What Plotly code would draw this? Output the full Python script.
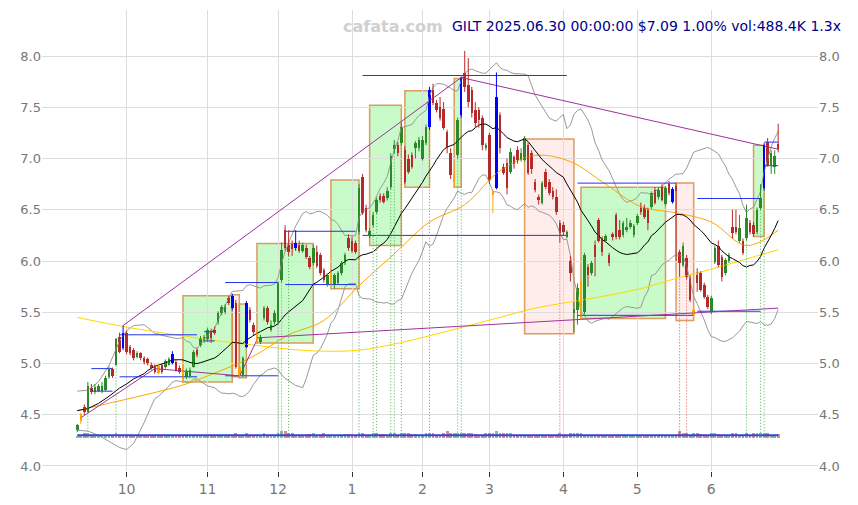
import plotly.graph_objects as go
import pandas as pd
import numpy as np

# ---------------- data ----------------
month_labels = ["9", "10", "11", "12", "1", "2", "3", "4", "5", "6"]
month_days = [14, 23, 20, 21, 20, 19, 21, 21, 21, 20]   # trading days per month shown

O = [4.35,4.44,4.58,4.53,4.76,4.72,4.73,4.73,4.74,4.87,
     4.95,4.99,5.26,5.15,5.30,5.16,5.13,5.06,5.10,5.05,
     5.04,4.99,4.97,4.91,4.99,4.97,4.99,5.00,5.01,4.96,
     4.99,4.87,4.88,4.97,5.13,5.18,5.22,5.23,5.32,5.33,
     5.40,5.49,5.50,5.64,5.54,5.59,4.97,4.89,5.16,5.52,
     5.38,5.21,5.21,5.44,5.54,5.33,5.40,5.40,5.81,6.30,
     6.16,6.17,6.13,6.16,6.10,6.13,6.03,5.98,6.09,6.06,
     5.91,5.77,5.79,5.77,5.79,5.88,5.98,6.22,6.20,6.18,
     6.28,6.82,6.52,6.25,6.35,6.48,6.63,6.63,6.61,6.72,
     7.09,7.13,7.15,7.08,7.00,7.03,7.10,7.10,7.00,7.15,
     7.31,7.67,7.54,7.50,7.48,7.26,7.05,6.77,7.03,7.42,
     7.83,7.72,7.67,7.47,7.47,7.40,7.10,7.23,6.64,6.71,
     7.42,6.92,6.96,6.87,7.01,7.08,6.99,6.99,7.13,7.05,
     6.77,6.62,6.57,6.87,6.77,6.68,6.62,6.37,6.35,6.23,
     6.00,5.49,5.52,5.80,5.50,5.94,5.88,6.16,6.40,6.22,
     6.20,6.06,6.26,6.45,6.30,6.25,6.30,6.33,6.25,6.37,
     6.52,6.52,6.50,6.53,6.69,6.62,6.72,6.56,6.75,6.58,
     6.73,6.09,5.96,6.03,5.83,5.47,5.86,5.88,5.77,5.65,
     5.50,5.99,6.15,6.04,5.88,6.00,6.33,6.33,6.20,6.20,
     6.22,6.37,6.35,6.28,6.52,6.71,7.16,6.94,6.92,7.14]

C = [4.40,4.51,4.53,4.78,4.72,4.77,4.78,4.78,4.86,4.95,
     4.88,5.24,5.11,5.30,5.11,5.10,5.05,5.10,5.05,5.01,
     5.00,4.96,4.92,4.98,4.92,5.02,5.04,5.09,4.94,4.92,
     4.84,4.93,4.94,5.11,5.08,5.25,5.26,5.33,5.25,5.30,
     5.49,5.55,5.55,5.59,5.66,4.97,4.89,5.05,5.59,5.42,
     5.31,5.30,5.26,5.54,5.40,5.38,5.49,5.79,6.11,6.13,
     6.09,6.12,6.18,6.10,6.16,6.04,5.94,6.13,5.95,5.88,
     5.81,5.86,5.88,5.86,5.88,5.98,6.06,6.13,6.10,6.09,
     6.71,6.47,6.30,6.29,6.45,6.60,6.60,6.58,6.68,7.02,
     7.13,7.05,7.31,6.77,6.87,6.92,7.15,7.18,7.18,7.31,
     7.67,7.54,7.47,7.40,7.30,7.10,6.84,6.86,7.38,7.79,
     7.70,7.55,7.44,7.35,7.38,7.13,7.13,6.79,6.67,7.60,
     7.10,6.86,6.71,7.06,6.95,6.99,7.05,7.20,6.86,6.90,
     6.69,6.60,6.76,6.72,6.66,6.62,6.48,6.27,6.28,6.28,
     5.88,5.53,5.74,5.45,6.06,5.86,5.98,6.04,6.20,6.09,
     6.24,5.98,6.23,6.23,6.23,6.37,6.33,6.37,6.34,6.44,
     6.48,6.43,6.37,6.66,6.57,6.69,6.60,6.71,6.66,6.70,
     6.68,5.98,6.15,5.84,5.62,5.52,5.79,5.72,5.65,5.55,
     5.64,6.13,5.96,5.84,6.01,6.06,6.27,6.28,6.32,6.08,
     6.42,6.28,6.26,6.50,6.61,7.13,6.94,7.05,7.02,7.09]

H = [4.41,4.52,4.60,4.82,4.80,4.80,4.80,4.82,4.88,4.97,
     4.96,5.25,5.30,5.37,5.32,5.18,5.15,5.12,5.11,5.07,
     5.06,5.01,4.99,5.00,5.00,5.04,5.06,5.12,5.03,4.98,
     5.00,4.95,4.96,5.13,5.15,5.27,5.28,5.35,5.34,5.36,
     5.51,5.57,5.58,5.66,5.68,5.62,5.00,5.07,5.61,5.55,
     5.40,5.32,5.28,5.56,5.56,5.42,5.52,5.80,6.18,6.35,
     6.30,6.20,6.30,6.20,6.18,6.16,6.05,6.16,6.15,6.08,
     5.93,5.88,5.90,5.88,5.90,6.00,6.08,6.26,6.24,6.20,
     6.75,6.85,6.55,6.32,6.48,6.62,6.66,6.66,6.72,7.05,
     7.18,7.16,7.35,7.12,7.04,7.06,7.17,7.21,7.22,7.33,
     7.70,7.73,7.57,7.60,7.55,7.28,7.10,6.95,7.40,7.80,
     8.05,7.98,7.70,7.55,7.50,7.42,7.15,7.25,6.70,7.84,
     7.45,6.95,7.00,7.10,7.03,7.12,7.10,7.22,7.16,7.08,
     6.80,6.65,6.78,6.90,6.80,6.72,6.70,6.40,6.38,6.30,
     6.05,5.60,5.78,5.82,6.08,5.97,6.00,6.20,6.42,6.24,
     6.26,6.08,6.28,6.47,6.40,6.39,6.42,6.40,6.36,6.46,
     6.57,6.55,6.52,6.68,6.72,6.72,6.75,6.73,6.78,6.72,
     6.76,6.11,6.18,6.06,5.86,5.54,5.93,5.90,5.79,5.67,
     5.66,6.15,6.20,6.06,6.03,6.08,6.50,6.50,6.45,6.22,
     6.55,6.40,6.38,6.52,6.75,7.15,7.20,7.08,7.08,7.34]

L = [4.33,4.41,4.50,4.52,4.70,4.70,4.72,4.71,4.73,4.85,
     4.86,4.98,5.10,5.13,5.09,5.08,5.03,5.05,5.03,4.99,
     4.98,4.94,4.90,4.89,4.90,4.95,4.98,4.99,4.92,4.90,
     4.82,4.85,4.86,4.96,5.06,5.16,5.20,5.21,5.20,5.28,
     5.38,5.47,5.48,5.57,5.52,4.95,4.85,4.87,5.15,5.40,
     5.28,5.19,5.19,5.42,5.38,5.31,5.38,5.38,5.79,6.10,
     6.05,6.05,6.10,6.08,6.08,6.02,5.92,5.96,5.93,5.86,
     5.79,5.75,5.77,5.73,5.77,5.86,5.96,6.10,6.08,6.07,
     6.26,6.45,6.28,6.22,6.33,6.46,6.57,6.56,6.59,6.70,
     7.05,7.02,7.13,6.75,6.85,6.90,7.00,7.07,6.98,7.13,
     7.28,7.52,7.45,7.37,7.28,7.05,6.80,6.72,7.00,7.40,
     7.65,7.50,7.40,7.30,7.30,7.08,7.08,6.75,6.47,6.70,
     7.05,6.84,6.65,6.85,6.90,6.95,6.97,6.97,6.84,6.85,
     6.67,6.55,6.55,6.70,6.64,6.60,6.45,6.18,6.25,6.22,
     5.80,5.30,5.38,5.43,5.48,5.75,5.86,5.85,6.18,6.05,
     6.18,5.95,6.20,6.21,6.21,6.23,6.28,6.31,6.23,6.35,
     6.45,6.41,6.30,6.51,6.55,6.60,6.58,6.54,6.64,6.56,
     6.00,5.85,5.94,5.82,5.60,5.45,5.70,5.70,5.63,5.53,
     5.48,5.97,5.94,5.80,5.86,5.98,6.22,6.26,6.18,6.06,
     6.20,6.26,6.24,6.26,6.50,6.69,6.92,6.85,6.85,7.06]

VOL = [300,320,600,650,280,260,250,240,260,300,
       280,700,350,420,300,260,240,230,250,240,
       230,220,240,260,240,250,260,300,280,250,
       320,260,250,300,280,320,260,300,280,260,
       330,300,280,300,380,700,420,380,650,400,
       330,300,320,600,380,300,320,700,1000,950,
       650,600,380,350,330,320,550,600,350,330,
       600,320,300,290,300,320,550,550,300,320,
       650,600,380,350,600,650,550,550,380,600,
       600,350,650,600,600,550,550,380,350,600,
       700,600,380,350,600,950,650,600,650,700,
       650,600,600,550,380,350,600,600,600,900,
       650,600,600,600,380,350,330,320,380,350,
       330,320,380,350,330,320,380,650,380,350,
       650,600,650,600,400,380,350,330,380,350,
       300,330,300,380,330,320,280,270,300,290,
       300,320,350,330,300,280,300,290,320,380,
       350,1000,650,600,380,600,600,550,380,350,
       600,600,550,380,330,320,600,600,350,330,
       650,380,600,600,650,700,600,380,350,488]

blue_days = [13, 27, 44, 48, 62, 100, 109, 119, 169, 195]
orange_days = [1, 23, 30, 46, 51, 72, 107, 118, 143, 175]

# 20-day band values before a full 20-session window exists
head_idx = [0, 3, 6, 9, 12, 14, 16]
head_mid = [4.54, 4.56, 4.61, 4.68, 4.76, 4.80, 4.85]
head_up = [4.73, 4.74, 4.82, 4.98, 5.22, 5.32, 5.37]
head_lo = [4.35, 4.34, 4.30, 4.24, 4.18, 4.16, 4.22]

ma_idx = [0, 10, 20, 30, 40, 50, 60, 70, 80, 90, 100, 110, 120, 130, 140, 150, 160, 170, 180, 190, 199]
ma50 = [4.54, 4.62, 4.70, 4.79, 4.92, 5.07, 5.28, 5.42, 5.76, 6.07, 6.38, 6.55, 6.88, 7.03, 6.97,
        6.75, 6.53, 6.47, 6.38, 6.15, 6.30]
ma200 = [5.45, 5.38, 5.32, 5.27, 5.22, 5.18, 5.14, 5.12, 5.13, 5.19, 5.27, 5.36, 5.45, 5.54, 5.60,
         5.66, 5.73, 5.83, 5.92, 6.02, 6.11]

# consolidation boxes
box_x0 = [30, 44, 46, 51, 72, 83, 93, 107, 127, 143, 170, 192]
box_x1 = [44, 46, 48, 67, 80, 92, 100, 109, 141, 167, 175, 195]
box_lo = [4.82, 4.87, 4.86, 5.20, 5.73, 6.15, 6.72, 6.72, 5.29, 5.44, 5.42, 6.24]
box_hi = [5.66, 5.67, 5.58, 6.17, 6.79, 7.52, 7.66, 7.78, 7.19, 6.72, 6.76, 7.13]
box_up = [1, 0, 1, 1, 1, 1, 1, 1, 0, 1, 0, 1]

# support / resistance segments
lvl_x0 = [4, 4, 12, 12, 36, 36, 42, 42, 59, 59, 81, 81, 142, 142, 176, 176, 195, 195]
lvl_x1 = [10, 10, 34, 34, 39, 39, 57, 57, 79, 79, 139, 139, 170, 175, 194, 194, 199, 199]
lvl_y = [4.95, 4.73, 5.28, 4.87, 5.31, 5.22, 5.79, 4.88, 6.29, 5.77, 7.81, 6.25, 6.76, 5.47,
         6.61, 5.51, 7.16, 6.93]

# trend lines
tl_x0 = [13, 109, 1, 22, 46, 51]
tl_y0 = [5.37, 7.79, 4.47, 4.95, 4.87, 5.25]
tl_x1 = [109, 199, 22, 46, 51, 199]
tl_y1 = [7.79, 7.09, 4.95, 4.88, 5.23, 5.54]

signal_up = [3, 11, 57, 58, 60, 80, 84, 85, 89, 90, 92, 100, 108, 109, 190, 194, 195]
signal_dn = [137, 171, 173]

title_text = "GILT 2025.06.30 00:00:00 $7.09 1.00% vol:488.4K 1.3x"
watermark = "cafata.com"

assert len(O) == len(C) == len(H) == len(L) == len(VOL) == 200

# ---------------- figure ----------------
n = len(C)
idx = list(range(n))
tick_idx = [int(v) for v in np.cumsum(month_days)[:-1]]
tick_txt = month_labels[1:]

GREEN = "#2a8a2a"
RED = "#b52a2a"
BLUE = "#0000ff"
ORANGE = "#ffa500"

def ccol(i):
    if i in blue_days:
        return BLUE
    if i in orange_days:
        return ORANGE
    return GREEN if C[i] >= O[i] else RED

cols = [ccol(i) for i in idx]

fig = go.Figure()

# volume
vcol = ["rgba(40,140,40,0.55)" if C[i] >= O[i] else "rgba(190,40,40,0.55)" for i in idx]
fig.add_trace(go.Bar(x=idx, y=[v * 0.00007 for v in VOL], base=4.275, width=0.8,
                     marker=dict(color=vcol, line_width=0), hoverinfo="skip"))

# bollinger / 20 MA
cs = pd.Series(C)
mid = cs.rolling(20).mean()
sd = cs.rolling(20).std(ddof=0)
full = list(range(19, n))
bx = head_idx + full
fig.add_trace(go.Scatter(x=bx, y=head_up + [mid[i] + 2 * sd[i] for i in full], mode="lines",
                         line=dict(color="#999999", width=1), hoverinfo="skip"))
fig.add_trace(go.Scatter(x=bx, y=head_lo + [mid[i] - 2 * sd[i] for i in full], mode="lines",
                         line=dict(color="#999999", width=1), hoverinfo="skip"))
fig.add_trace(go.Scatter(x=ma_idx, y=ma200, mode="lines", line=dict(color="#ffd700", width=1, shape="spline"), hoverinfo="skip"))
fig.add_trace(go.Scatter(x=ma_idx, y=ma50, mode="lines", line=dict(color="#ffa500", width=1, shape="spline"), hoverinfo="skip"))
fig.add_trace(go.Scatter(x=bx, y=head_mid + [mid[i] for i in full], mode="lines",
                         line=dict(color="#000000", width=1), hoverinfo="skip"))

# baseline
fig.add_trace(go.Scatter(x=[0, n - 1], y=[4.30, 4.30], mode="lines", line=dict(color="#3344dd", width=2), hoverinfo="skip"))

# levels
lx, ly = [], []
for a, b, y in zip(lvl_x0, lvl_x1, lvl_y):
    lx += [a, b, None]
    ly += [y, y, None]
fig.add_trace(go.Scatter(x=lx, y=ly, mode="lines", line=dict(color="#2233ee", width=1), hoverinfo="skip"))

# trend lines
tx, ty = [], []
for a, ya, b, yb in zip(tl_x0, tl_y0, tl_x1, tl_y1):
    tx += [a, b, None]
    ty += [ya, yb, None]
fig.add_trace(go.Scatter(x=tx, y=ty, mode="lines", line=dict(color="#a030a0", width=1), hoverinfo="skip"))

# signal dotted lines
for days, colr in ((signal_up, "#4caf4c"), (signal_dn, "#e05050")):
    sx, sy = [], []
    for d in days:
        sx += [d, d, None]
        sy += [L[d], 4.30, None]
    fig.add_trace(go.Scatter(x=sx, y=sy, mode="lines", line=dict(color=colr, width=1, dash="1px,2px"), hoverinfo="skip"))

# wicks
for colr in (GREEN, RED, BLUE, ORANGE):
    wx, wy = [], []
    for i in idx:
        if cols[i] == colr:
            wx += [i, i, None]
            wy += [L[i], H[i], None]
    fig.add_trace(go.Scatter(x=wx, y=wy, mode="lines", line=dict(color=colr, width=1), hoverinfo="skip"))

# bodies
fig.add_trace(go.Bar(x=idx, y=[max(abs(C[i] - O[i]), 0.012) for i in idx], base=[min(O[i], C[i]) for i in idx],
                     width=0.72, marker=dict(color=cols, line_width=0), hoverinfo="skip"))

# right axis dummy
fig.add_trace(go.Scatter(x=[0], y=[6], yaxis="y2", mode="markers", marker=dict(opacity=0), hoverinfo="skip"))

shapes = []
for a, b, lo, hi, up in zip(box_x0, box_x1, box_lo, box_hi, box_up):
    shapes.append(dict(type="rect", xref="x", yref="y", x0=a, x1=b, y0=lo, y1=hi, layer="below",
                       fillcolor="rgba(40,235,40,0.25)" if up else "rgba(255,60,30,0.09)",
                       line=dict(color="rgba(215,140,70,0.85)", width=1.5)))

yt = [4.0 + 0.5 * k for k in range(9)]
ytt = ["%.1f" % v for v in yt]
yrange = [3.951, 8.449]
axfont = dict(family="DejaVu Sans", size=13, color="#777777")

fig.update_layout(
    width=850, height=497,
    margin=dict(l=34, r=40, t=2, b=34),
    paper_bgcolor="white", plot_bgcolor="white",
    showlegend=False, barmode="overlay", bargap=0,
    shapes=shapes,
    xaxis=dict(range=[-10.02, 210.3], tickvals=tick_idx, ticktext=tick_txt, showgrid=True,
               gridcolor="#dddddd", gridwidth=1, zeroline=False, showline=False, automargin=False,
               ticks="outside", ticklen=5, tickcolor="#333333",
               tickfont=dict(family="DejaVu Sans", size=14, color="#777777")),
    yaxis=dict(range=yrange, tickvals=yt, ticktext=ytt, showgrid=True, gridcolor="#dddddd",
               zeroline=False, showline=False, ticks="", tickfont=axfont, automargin=False),
    yaxis2=dict(range=yrange, tickvals=yt, ticktext=ytt, overlaying="y", side="right", showgrid=False,
                zeroline=False, showline=False, ticks="", tickfont=axfont, automargin=False),
    annotations=[
        dict(text="<b>" + watermark + "</b>", xref="paper", yref="paper", x=0.452, y=0.965, showarrow=False,
             font=dict(family="DejaVu Sans", size=16, color="#d0d0d0"), xanchor="center", yanchor="middle"),
        dict(text=title_text, xref="paper", yref="paper", x=1.032, y=0.965, showarrow=False,
             font=dict(family="DejaVu Sans", size=14, color="#000088"), xanchor="right", yanchor="middle"),
    ],
)

fig.write_html("out.html")
